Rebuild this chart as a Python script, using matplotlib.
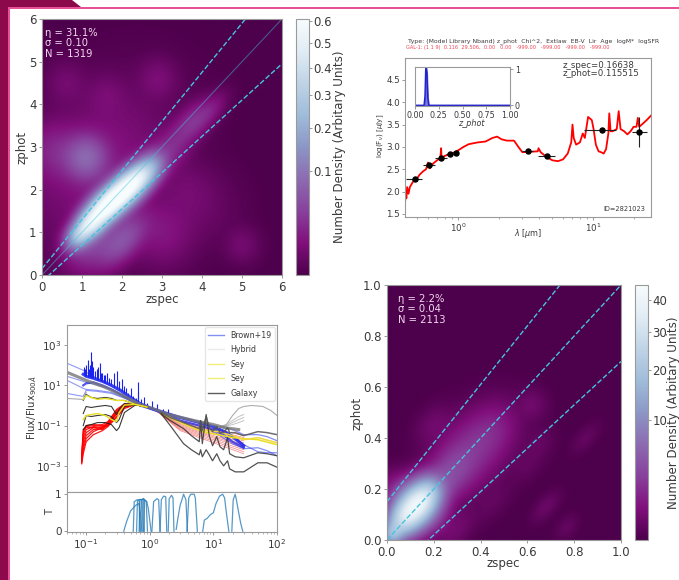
import numpy as np
import matplotlib
matplotlib.use("Agg")
import matplotlib.pyplot as plt
from matplotlib.colors import PowerNorm
from matplotlib.patches import Polygon, Rectangle

W, H = 679, 580
GREY = "#3a3a3a"
SPINE = "#9a9a9a"
CYAN = "#45c4e0"

# density clumps for the high z panel: centre, weight, width along / across the 1:1 line
hiz_x = [0.95, 1.25, 1.55, 1.85, 2.15, 2.45, 2.75, 3.2, 3.75, 4.2, 1.1, 0.3, 2.0, 1.2, 3.0, 5.0, 2.9, 0.6, 1.6, 1.4, 3.6, 4.0]
hiz_y = [0.95, 1.25, 1.55, 1.8, 2.05, 2.3, 2.55, 2.95, 3.55, 3.85, 2.75, 2.9, 0.8, 0.7, 1.0, 0.7, 4.6, 4.5, 4.2, 2.6, 2.0, 1.6]
hiz_w = [0.27, 0.42, 0.47, 0.5, 0.47, 0.36, 0.14, 0.02, 0.028, 0.012, 0.07, 0.018, 0.055, 0.035, 0.012, 0.005, 0.007, 0.005, 0.005, 0.012, 0.004, 0.003]
hiz_sa = [0.24, 0.24, 0.24, 0.24, 0.24, 0.24, 0.24, 0.32, 0.38, 0.3, 0.32, 0.4, 0.45, 0.4, 0.45, 0.25, 0.28, 0.3, 0.3, 1.1, 0.4, 0.5]
hiz_sb = [0.17, 0.2, 0.21, 0.21, 0.21, 0.2, 0.2, 0.24, 0.2, 0.14, 0.32, 0.4, 0.24, 0.3, 0.45, 0.25, 0.28, 0.3, 0.3, 0.8, 0.4, 0.5]

# same for the low z panel
loz_x = [0.02, 0.06, 0.1, 0.14, 0.18, 0.24, 0.3, 0.37, 0.45, 0.62, 0.2, 0.03, 0.68, 0.85, 0.65, 0.3, 0.77, 0.6, 0.45, 0.2]
loz_y = [0.02, 0.07, 0.11, 0.15, 0.19, 0.23, 0.29, 0.36, 0.43, 0.53, 0.45, 0.2, 0.13, 0.4, 0.38, 0.04, 0.05, 0.3, 0.15, 0.1]
loz_w = [13, 18, 24, 25, 15, 2.5, 2.0, 1.6, 1.3, 0.3, 0.3, 0.8, 0.22, 0.13, 0.14, 0.3, 0.13, 0.13, 0.12, 1.0]
loz_sa = [0.03, 0.04, 0.04, 0.04, 0.04, 0.06, 0.06, 0.07, 0.07, 0.035, 0.05, 0.04, 0.04, 0.04, 0.04, 0.06, 0.03, 0.05, 0.06, 0.05]
loz_sb = [0.03, 0.042, 0.047, 0.047, 0.042, 0.05, 0.06, 0.07, 0.06, 0.035, 0.035, 0.04, 0.02, 0.02, 0.03, 0.03, 0.02, 0.03, 0.03, 0.05]

# best fit SED and photometry
sed_wave = [0.405, 0.41, 0.415, 0.42, 0.43, 0.44, 0.45, 0.47, 0.5, 0.52, 0.55, 0.58, 0.6, 0.62, 0.65, 0.7, 0.74, 0.75, 0.755, 0.8, 0.9, 1.0, 1.1, 1.2, 1.4, 1.6, 1.8, 1.95, 2.1, 2.3, 2.6, 2.8, 3.0, 3.4, 3.9, 3.95, 4.1, 4.5, 5.0, 5.5, 6.0, 6.5, 6.9, 7.05, 7.2, 7.5, 8.0, 8.4, 8.7, 9.2, 9.8, 10.1, 10.5, 11.0, 11.5, 12.0, 12.5, 13.0, 13.2, 13.5, 14.0, 15.0, 15.5, 16.0, 17.0, 18.0, 19.0, 20.0, 21.0, 21.5, 22.0, 23.0, 25.0, 26.9]
sed_flux = [1.75, 1.9, 1.85, 2.1, 1.95, 2.1, 2.15, 2.25, 2.3, 2.38, 2.45, 2.5, 2.65, 2.52, 2.62, 2.7, 2.75, 2.97, 2.75, 2.8, 2.85, 2.92, 3.0, 3.06, 3.1, 3.12, 3.2, 3.23, 3.17, 3.14, 3.14, 3.0, 2.88, 2.89, 2.9, 2.97, 2.88, 2.78, 2.7, 2.68, 2.72, 2.85, 3.1, 3.5, 3.2, 3.05, 3.1, 3.3, 3.2, 3.67, 3.6, 3.4, 3.05, 2.9, 2.88, 2.85, 2.95, 3.3, 3.75, 3.35, 3.35, 3.4, 3.8, 3.4, 3.35, 3.28, 3.35, 3.45, 3.45, 3.65, 3.45, 3.5, 3.6, 3.7]
phot_wave = [0.477, 0.61, 0.752, 0.867, 0.96, 3.3, 4.56, 11.6, 22.1]
phot_flux = [2.27, 2.59, 2.76, 2.83, 2.86, 2.9, 2.79, 3.38, 3.33]
phot_lo = [0.41, 0.55, 0.68, 0.82, 0.93, 3.0, 3.9, 8.6, 19.5]
phot_hi = [0.54, 0.67, 0.83, 0.92, 1.0, 3.6, 5.2, 14.9, 25.0]
phot_yerr = [0.03, 0.03, 0.03, 0.03, 0.03, 0.03, 0.04, 0.04, 0.33]
pz_z = [0.0, 0.095, 0.105, 0.112, 0.118, 0.125, 0.135, 0.145, 1.0]
pz_p = [0.0, 0.0, 0.25, 0.95, 1.03, 0.9, 0.2, 0.0, 0.0]

# template library, log10 flux
blue_wave = [0.09, 0.1, 0.13, 0.18, 0.25, 0.35, 0.5, 0.7, 1.0, 1.5, 3.0, 6.0, 10.0, 15.0, 20.0, 30.0]
blue_main = [1.55, 1.45, 1.35, 1.2, 1.0, 0.75, 0.4, 0.1, -0.12, -0.3, -0.6, -0.85, -1.05, -1.3, -1.55, -2.0]
blue_low = [1.0, 1.1, 1.15, 1.0, 0.8, 0.55, 0.25, 0.0, -0.15, -0.35, -0.75, -1.0, -1.2, -1.5, -1.8, -2.1]
blue_uv_wave = [0.05, 0.09, 0.1, 0.15, 0.25, 0.5]
blue_uv = [[2.1, 1.75, 1.65, 1.35, 0.95, 0.35],
           [1.45, 1.2, 1.15, 1.0, 0.8, 0.3],
           [1.25, 0.85, 0.8, 0.75, 0.65, 0.25],
           [0.6, 0.45, 0.75, 0.7, 0.6, 0.25]]
blue_ir_wave = [10.0, 20.0, 30.0, 50.0, 70.0, 100.0]
blue_ir = [[-1.0, -1.2, -1.45, -1.45, -1.55, -1.75],
           [-1.15, -1.5, -1.95, -2.3, -2.35, -2.35],
           [-1.3, -1.9, -2.15, -2.1, -2.25, -2.5]]
spike_wave = [0.092, 0.097, 0.101, 0.106, 0.11, 0.115, 0.12, 0.125, 0.13, 0.14, 0.15, 0.155, 0.163, 0.17, 0.18, 0.19, 0.2, 0.21, 0.23, 0.25, 0.27, 0.3, 0.33, 0.37, 0.39, 0.42, 0.45, 0.5, 0.55, 0.6, 0.656, 0.66, 0.72, 0.8, 0.9, 1.08, 1.28, 1.6, 1.9]
spike_top = [1.9, 1.8, 2.0, 2.27, 1.8, 2.0, 2.68, 2.2, 1.9, 1.7, 1.8, 1.9, 2.1, 1.6, 1.6, 1.5, 1.5, 1.6, 1.35, 1.3, 1.6, 1.7, 1.2, 1.3, 0.95, 0.85, 0.6, 0.85, 0.45, 0.35, 1.17, 0.7, 0.3, 0.4, 0.1, 0.2, 0.05, -0.2, -0.2]

gal_wave = [0.05, 0.1, 0.2, 0.4, 0.7, 1.0, 2.0, 5.0, 10.0, 15.0, 25.0]
gal_thick = [1.65, 1.25, 0.9, 0.45, 0.05, -0.1, -0.45, -0.75, -0.95, -1.1, -1.2]
gal_uv_wave = [0.09, 0.1, 0.12, 0.15, 0.2, 0.25, 0.3, 0.33, 0.4, 0.6, 0.9]
gal_uv = [[0.25, 0.55, 0.4, 0.35, 0.4, 0.35, 0.25, 0.25, 0.25, 0.05, -0.08],
          [-0.4, -0.05, -0.1, -0.05, 0.0, -0.05, -0.45, -0.2, 0.1, 0.05, -0.08],
          [-1.0, -0.5, -0.55, -0.5, -0.45, -0.55, -0.85, -0.7, -0.05, 0.05, -0.08],
          [-1.2, -1.0, -0.95, -0.85, -0.85, -0.95, -1.25, -1.1, -0.35, 0.03, -0.08]]
yellow_uv = [[0.3, 0.5, 0.4, 0.3, 0.35, 0.3, 0.25, 0.25, 0.25, 0.05, -0.08],
             [-0.7, -0.5, -0.45, -0.4, -0.5, -0.7, -0.8, -0.35, 0.02, 0.05, -0.08]]
red_uv_wave = [0.085, 0.09, 0.1, 0.13, 0.18, 0.22, 0.3, 0.4, 0.6, 0.9]
red_uv = [[-2.8, -1.3, -1.0, -0.95, -1.0, -1.0, -0.4, 0.0, 0.05, -0.08],
          [-2.6, -1.6, -1.2, -1.05, -1.1, -0.95, -0.35, -0.05, 0.05, -0.08],
          [-2.7, -2.0, -1.5, -1.2, -1.15, -1.0, -0.55, -0.1, 0.05, -0.08],
          [-2.9, -2.4, -1.8, -1.45, -1.25, -1.05, -0.6, -0.15, 0.05, -0.08],
          [-2.5, -1.2, -1.1, -1.1, -1.2, -0.9, -0.3, 0.05, 0.05, -0.08],
          [-2.75, -1.8, -1.35, -1.1, -1.05, -0.85, -0.2, 0.08, 0.05, -0.08],
          [-2.85, -2.2, -1.65, -1.3, -1.1, -0.9, -0.45, -0.02, 0.05, -0.08],
          [-2.65, -1.45, -1.05, -1.0, -0.95, -0.8, -0.25, 0.02, 0.05, -0.08]]
red_ir_wave = [1.2, 3.0, 30.0]
red_ir_mid = [-0.75, -0.8, -0.85, -0.9, -0.95, -1.0, -1.05, -1.1, -1.15, -1.2, -1.25]
red_ir_end = [-1.5, -1.6, -1.68, -1.76, -1.85, -1.95, -2.02, -2.1, -2.2, -2.3, -2.4]

agn_wave = [1.5, 3.0, 5.0, 8.0, 12.0, 20.0, 30.0, 50.0, 100.0]
yellow_ir = [-0.4, -0.8, -1.15, -1.35, -1.45, -1.6, -1.65, -1.7, -1.95]
yellow_ir2 = [-0.4, -0.85, -1.15, -1.25, -1.3, -1.5, -1.7, -1.6, -1.85]
gal_low_wave = [1.5, 2.1, 3.4, 4.5, 6.0, 6.3, 6.7, 7.7, 8.6, 9.7, 11.3, 12.7, 14.5, 16.7, 18.0, 22.0, 30.0, 50.0, 70.0, 100.0]
gal_low = [-0.4, -1.0, -1.9, -2.2, -2.45, -2.2, -2.55, -2.2, -2.45, -2.75, -2.4, -2.75, -3.0, -2.75, -3.15, -3.3, -3.3, -2.85, -2.85, -3.07]
gal_mid = [-0.4, -0.75, -1.15, -1.5, -1.8, -0.75, -1.9, -0.45, -1.5, -2.0, -1.55, -2.05, -2.2, -1.6, -2.4, -2.55, -2.6, -2.35, -2.4, -2.5]
gal_top = [-0.35, -0.6, -0.85, -1.0, -1.15, -0.8, -1.25, -0.55, -1.1, -1.3, -1.05, -1.35, -1.35, -1.1, -1.35, -1.35, -1.5, -1.3, -1.35, -1.45]
hyb_wave = [12.0, 16.0, 20.0, 25.0, 30.0, 40.0, 60.0, 80.0, 100.0]
hyb_top = [-1.1, -0.95, -0.5, -0.15, -0.05, 0.0, -0.05, -0.25, -0.5]
hyb_short = [[-1.1, -0.95, -0.75, -0.55, -0.45], [-1.1, -1.0, -0.85, -0.7, -0.6], [-1.1, -1.02, -0.95, -0.85, -0.75]]

# filter curves
filter_wave = [[0.39, 0.43, 0.5, 0.6, 0.68, 0.72, 0.75],
               [0.55, 0.57, 0.63, 0.68, 0.7],
               [0.62, 0.64, 0.7, 0.76, 0.78],
               [0.68, 0.7, 0.75, 0.8, 0.82],
               [0.72, 0.74, 0.8, 0.88, 0.92],
               [0.8, 0.83, 0.9, 0.95, 1.05],
               [1.08, 1.15, 1.3, 1.38, 1.45],
               [1.45, 1.52, 1.65, 1.78, 1.85],
               [1.95, 2.02, 2.2, 2.32, 2.4],
               [2.6, 2.8, 3.0, 3.2, 3.4, 3.7, 3.9],
               [3.85, 4.1, 4.4, 5.0, 5.2, 5.6],
               [6.8, 7.2, 8.0, 9.0, 10.0, 11.0, 12.5, 14.0, 15.0, 16.0, 17.5],
               [19.5, 20.5, 22.0, 23.0, 25.0, 27.0, 29.0]]
filter_t = [[0.0, 0.25, 0.55, 0.7, 0.75, 0.4, 0.0],
            [0.0, 0.8, 0.85, 0.85, 0.0],
            [0.0, 0.82, 0.86, 0.85, 0.0],
            [0.0, 0.85, 0.86, 0.88, 0.0],
            [0.0, 0.84, 0.88, 0.8, 0.0],
            [0.0, 0.85, 0.8, 0.6, 0.0],
            [0.0, 0.8, 0.88, 0.85, 0.0],
            [0.0, 0.85, 0.95, 0.93, 0.0],
            [0.0, 0.88, 0.97, 0.9, 0.0],
            [0.05, 0.4, 0.7, 0.85, 1.0, 0.85, 0.0],
            [0.0, 0.9, 1.0, 1.0, 0.9, 0.0],
            [0.0, 0.3, 0.35, 0.45, 0.5, 0.75, 0.95, 1.0, 0.9, 0.5, 0.0],
            [0.0, 0.85, 1.0, 0.85, 0.5, 0.2, 0.0]]

title_head = "Type: (Model Library Nband) z_phot  Chi^2,  Extlaw  EB-V  Lir  Age  logM*  logSFR"
title_gal = "GAL-1: (1 1 9)  0.116  29.506,  0.00   0.00   -999.00   -999.00   -999.00   -999.00"


def px_axes(left, top, right, bottom, **kw):
    return fig.add_axes([left / W, 1 - bottom / H, (right - left) / W, (bottom - top) / H], **kw)


def px_text(x, y, s, **kw):
    return fig.text(x / W, 1 - y / H, s, **kw)


def clumps(lim, cx, cy, w, sa, sb):
    g = np.linspace(0, lim, 400)
    xx, yy = np.meshgrid(g, g)
    out = np.zeros_like(xx)
    for a, b, c, d, e in zip(cx, cy, w, sa, sb):
        along = ((xx - a) + (yy - b)) / np.sqrt(2)
        across = ((xx - a) - (yy - b)) / np.sqrt(2)
        out += c * np.exp(-0.5 * (along / d) ** 2 - 0.5 * (across / e) ** 2)
    return out


def style(ax, size=8.5, pad=1.5):
    for s in ax.spines.values():
        s.set_color(SPINE)
    ax.tick_params(colors=GREY, labelsize=size, color=SPINE, length=2.5, width=0.7, pad=pad)


def density_panel(box, cbox, lim, field, vmax, ticks, ytk, stats, stat_xy, xl_xy, yl_xy, cl_xy):
    ax = px_axes(*box)
    im = ax.imshow(field, origin="lower", extent=[0, lim, 0, lim], cmap="BuPu_r",
                   norm=PowerNorm(0.5, vmin=0, vmax=vmax), aspect="auto", interpolation="bilinear")
    g = np.array([0, lim])
    ax.plot(g, 1.15 * g + 0.15, color=CYAN, ls="--", lw=1)
    ax.plot(g, 0.85 * g - 0.15, color=CYAN, ls="--", lw=1)
    ax.set_xlim(0, lim)
    ax.set_ylim(0, lim)
    ax.set_xticks(ytk)
    ax.set_yticks(ytk)
    style(ax)
    cax = px_axes(*cbox)
    cb = fig.colorbar(im, cax=cax, ticks=ticks)
    cb.outline.set_edgecolor(SPINE)
    style(cax, pad=0.8)
    for i, s in enumerate(stats):
        px_text(stat_xy[0], stat_xy[1] + i * 10.3, s, color="#f0d8ee", fontsize=7.2, va="center")
    px_text(xl_xy[0], xl_xy[1], "zspec", color=GREY, fontsize=8.5, ha="center", va="center")
    px_text(yl_xy[0], yl_xy[1], "zphot", color=GREY, fontsize=8.5, ha="center", va="center", rotation=90)
    px_text(cl_xy[0], cl_xy[1], "Number Density (Arbitary Units)", color=GREY, fontsize=8.6,
            ha="center", va="center", rotation=90)
    return ax


fig = plt.figure(figsize=(W / 100, H / 100), dpi=100, facecolor="white")

# slide frame
bg = fig.add_axes([0, 0, 1, 1], zorder=-1)
bg.set_xlim(0, W)
bg.set_ylim(H, 0)
bg.axis("off")
bg.add_patch(Polygon([[0, 0], [72, 0], [81, 7], [10, 7], [10, H], [0, H]], color="#8c0a4c", lw=0))
bg.add_patch(Rectangle((8, 7), 2, H, color="#e8509a", lw=0))
bg.add_patch(Rectangle((8, 7), W, 2, color="#e8509a", lw=0))

# high z
ax1 = density_panel((42, 19, 282, 275), (296, 19, 309, 275), 6,
                    clumps(6, hiz_x, hiz_y, hiz_w, hiz_sa, hiz_sb), 0.61,
                    [0.1, 0.2, 0.3, 0.4, 0.5, 0.6], [0, 1, 2, 3, 4, 5, 6],
                    ["η = 31.1%", "σ = 0.10", "N = 1319"], (45, 33), (162, 300), (22, 147), (340, 147))
ax1.plot([0, 6], [0, 6], color=CYAN, lw=0.8, alpha=0.45)

# low z
ax4 = density_panel((387, 285, 621, 540), (635, 285, 648, 540), 1,
                    clumps(1, loz_x, loz_y, loz_w, loz_sa, loz_sb), 45,
                    [10, 20, 30, 40], [0, 0.2, 0.4, 0.6, 0.8, 1.0],
                    ["η = 2.2%", "σ = 0.04", "N = 2113"], (398, 299), (503, 563), (357, 413), (674, 413))
ax4.plot([0, 1], [0, 1], color=CYAN, ls="--", lw=1)

# example SED
ax2 = px_axes(405, 58, 651, 217)
ax2.plot(sed_wave, sed_flux, color="red", lw=1.3)
phot_wave_a = np.array(phot_wave)
ax2.errorbar(phot_wave, phot_flux,
             xerr=[phot_wave_a - np.array(phot_lo), np.array(phot_hi) - phot_wave_a],
             yerr=phot_yerr, fmt="o", ms=3.6, color="black", ecolor="#222222", elinewidth=0.8, zorder=5)
ax2.set_xscale("log")
ax2.set_xlim(0.405, 26.9)
ax2.set_ylim(1.43, 4.99)
ax2.set_yticks([1.5, 2.0, 2.5, 3.0, 3.5, 4.0, 4.5])
ax2.set_yticklabels(["1.5", "2.0", "2.5", "3.0", "3.5", "4.0", "4.5"])
style(ax2, 6.3)
ax2.tick_params(length=2, pad=1.5)
ax2.tick_params(which="minor", color=SPINE, length=1.2, labelbottom=False)
px_text(528, 234, r"$\lambda$ [$\mu$m]", color=GREY, fontsize=5.8, ha="center", va="center")
px_text(381, 136, r"log(F$_\nu$) [$\mu$Jy]", color=GREY, fontsize=5.2, ha="center", va="center", rotation=90)
px_text(563, 65, "z_spec=0.16638", color=GREY, fontsize=6.2, va="center")
px_text(563, 73, "z_phot=0.115515", color=GREY, fontsize=6.2, va="center")
px_text(603, 209, "ID=2821023", color=GREY, fontsize=4.8, va="center")
px_text(408, 41, title_head, color=GREY, fontsize=4.45, va="center")
px_text(406, 48, title_gal, color="#ee4455", fontsize=3.6, va="center")

ins = px_axes(415, 67, 510, 106)
ins.plot(pz_z, pz_p, color="#2222cc", lw=1)
ins.fill_between(pz_z, pz_p, color="#2222cc", alpha=0.6)
ins.set_xlim(0, 1)
ins.set_ylim(-0.02, 1.06)
ins.set_xticks([0, 0.25, 0.5, 0.75, 1.0])
ins.set_xticklabels(["0.00", "0.25", "0.50", "0.75", "1.00"])
ins.yaxis.tick_right()
ins.set_yticks([0, 1])
style(ins, 5.8)
ins.tick_params(length=2, pad=1.5)
px_text(471, 124, "z_phot", color=GREY, fontsize=5.8, ha="center", va="center", style="italic")

# template library
ax3 = px_axes(67, 325, 277, 492)
for row in red_uv:
    ax3.plot(red_uv_wave, 10.0 ** np.array(row), color="red", lw=0.9, alpha=0.9)
for mid, end in zip(red_ir_mid, red_ir_end):
    ax3.plot(red_ir_wave, 10.0 ** np.array([-0.2, mid, end]), color="#f04040", lw=0.5, alpha=0.65)
for row in blue_uv:
    ax3.plot(blue_uv_wave, 10.0 ** np.array(row), color="#3344ee", lw=0.8, alpha=0.55)
for row in blue_ir:
    ax3.plot(blue_ir_wave, 10.0 ** np.array(row), color="#3344ee", lw=0.9, alpha=0.6)
blue_base = np.interp(np.log10(spike_wave), np.log10(blue_wave), blue_main)
ax3.vlines(spike_wave, 10.0 ** blue_base, 10.0 ** np.array(spike_top), color="#1a22ee", lw=0.8)
ax3.plot(blue_wave, 10.0 ** np.array(blue_low), color="#1a22ee", lw=1.6, alpha=0.75)
ax3.plot(blue_wave, 10.0 ** np.array(blue_main), color="#1a22ee", lw=2.2, alpha=0.85)
ax3.plot(hyb_wave, 10.0 ** np.array(hyb_top), color="#999999", lw=0.8, alpha=0.8)
for row in hyb_short:
    ax3.plot(hyb_wave[:5], 10.0 ** np.array(row), color="#aaaaaa", lw=0.7, alpha=0.7)
ax3.plot(blue_uv_wave[:3], 10.0 ** np.array([0.35, 0.3, 0.65]), color="#aaaaaa", lw=0.8)
ax3.plot(gal_wave, 10.0 ** np.array(gal_thick), color="#777777", lw=2.2, alpha=0.8)
for row in gal_uv:
    ax3.plot(gal_uv_wave, 10.0 ** np.array(row), color="#222222", lw=0.8, alpha=0.9)
for row in yellow_uv:
    ax3.plot(gal_uv_wave, 10.0 ** np.array(row), color="#e8e020", lw=1.0)
ax3.plot(agn_wave, 10.0 ** np.array(yellow_ir), color="#e8e020", lw=1.1)
ax3.plot(agn_wave, 10.0 ** np.array(yellow_ir2), color="#f0d840", lw=1.1)
ax3.plot(gal_low_wave, 10.0 ** np.array(gal_low), color="#333333", lw=0.9, alpha=0.85)
ax3.plot(gal_low_wave, 10.0 ** np.array(gal_mid), color="#333333", lw=0.9, alpha=0.85)
ax3.plot(gal_low_wave, 10.0 ** np.array(gal_top), color="#555555", lw=1.1, alpha=0.85)
ax3.set_xscale("log")
ax3.set_yscale("log")
ax3.set_xlim(0.05, 100)
ax3.set_ylim(5e-5, 1e4)
ax3.set_yticks([1e-3, 1e-1, 1e1, 1e3])
ax3.minorticks_off()
ax3.tick_params(labelbottom=False, bottom=False)
style(ax3, 7.5)
handles = [plt.Line2D([], [], color="#3344ee", alpha=0.6, lw=1),
           plt.Line2D([], [], color="#dddddd", alpha=0.6, lw=1),
           plt.Line2D([], [], color="#e8e020", alpha=0.6, lw=1),
           plt.Line2D([], [], color="#e8e020", alpha=0.6, lw=1),
           plt.Line2D([], [], color="#333333", alpha=0.8, lw=1)]
ax3.legend(handles, ["Brown+19", "Hybrid", "Sey", "Sey", "Galaxy"], loc="upper right", fontsize=5.7,
           labelcolor=GREY, borderaxespad=0.3, labelspacing=0.7, handlelength=2.0, edgecolor="#e0e0e0")
px_text(32, 408, r"Flux/Flux$_{900\AA}$", color=GREY, fontsize=7.2, ha="center", va="center", rotation=90)

axt = px_axes(67, 492, 277, 532)
for wl, tr in zip(filter_wave, filter_t):
    axt.plot(wl, tr, color="#1f77b4", lw=0.9, alpha=0.75)
axt.set_xscale("log")
axt.set_xlim(0.05, 100)
axt.set_ylim(-0.02, 1.06)
axt.set_yticks([0, 1])
style(axt, 7.5)
axt.tick_params(which="minor", color=SPINE, length=1.5, width=0.5)
px_text(50, 512, "T", color=GREY, fontsize=7.2, ha="center", va="center", rotation=90)

fig.savefig("out.png", dpi=100, facecolor="white")
